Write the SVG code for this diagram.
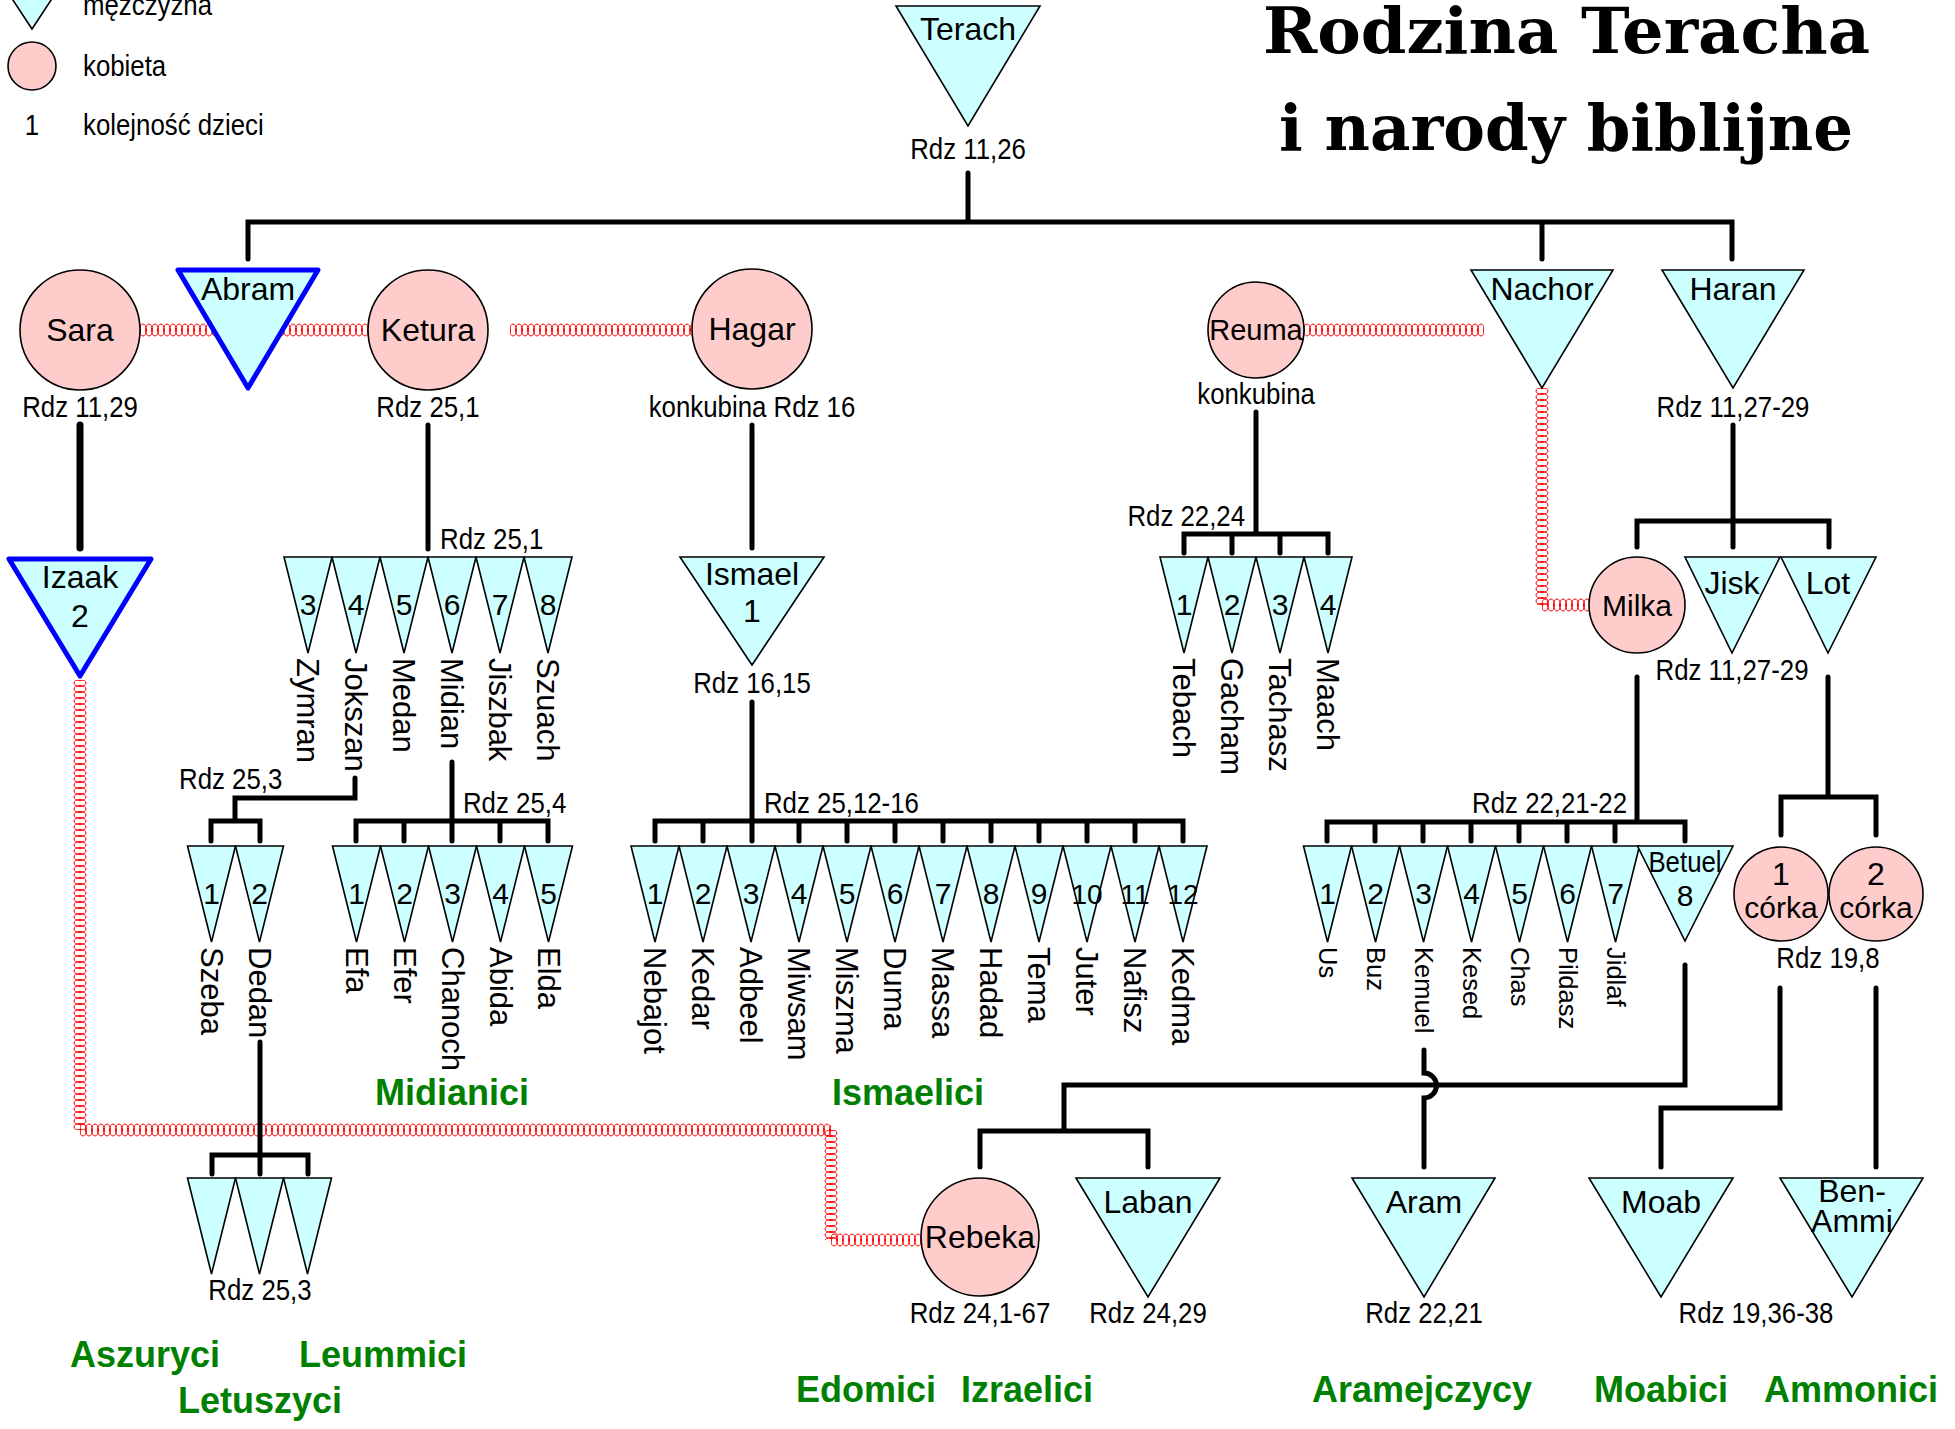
<svg xmlns="http://www.w3.org/2000/svg" xmlns:xlink="http://www.w3.org/1999/xlink" width="1955" height="1429" viewBox="0 0 1955 1429">
<style>
.m{fill:#ccffff;stroke:#000;stroke-width:1.6}
.f{fill:#ffcccc;stroke:#000;stroke-width:1.6}
.b{fill:#ccffff;stroke:#0000ff;stroke-width:5;stroke-linejoin:round}
text{font-family:"Liberation Sans",Arial,sans-serif;fill:#000}
.l{font-size:32px;text-anchor:middle}
.d{font-size:30px;text-anchor:middle}
.r{font-size:29px;text-anchor:middle;transform-box:fill-box;transform-origin:50% 50%;transform:scaleX(0.89)}
.st{text-anchor:start;transform-origin:0% 50%}
.en{text-anchor:end;transform-origin:100% 50%}
.nm{font-size:31px}
.ns{font-size:25.5px}
.g{font-size:36px;font-weight:bold;fill:#008000;text-anchor:middle}
.ttl{font-family:"DejaVu Serif","Liberation Serif",serif;font-weight:bold;font-size:64px}
.ln{fill:none;stroke:#000;stroke-width:5;stroke-linecap:round;stroke-linejoin:miter}
</style>
<defs>
<polygon id="ts" points="-24,0 24,0 0,96"/>
<pattern id="cH" patternUnits="userSpaceOnUse" x="0" y="-7" width="6" height="14">
<g fill="none" stroke="#ff0000" stroke-width="1"><ellipse cx="-3" cy="7" rx="3.5" ry="6"/><ellipse cx="3" cy="7" rx="3.5" ry="6"/><ellipse cx="9" cy="7" rx="3.5" ry="6"/></g>
</pattern>
<pattern id="cV" patternUnits="userSpaceOnUse" x="-7" y="0" width="14" height="6">
<g fill="none" stroke="#ff0000" stroke-width="1"><ellipse cx="7" cy="-3" rx="6" ry="3.5"/><ellipse cx="7" cy="3" rx="6" ry="3.5"/><ellipse cx="7" cy="9" rx="6" ry="3.5"/></g>
</pattern>
</defs>
<rect width="1955" height="1429" fill="#ffffff"/>

<g id="legend">
<polygon class="m" points="5,-12 59,-12 32,29"/>
<text class="r st" x="83" y="15">mężczyzna</text>
<circle class="f" cx="32" cy="66" r="24"/>
<text class="r st" x="83" y="76">kobieta</text>
<text class="r" x="32" y="135">1</text>
<text class="r st" x="83" y="135">kolejność dzieci</text>
</g>

<g id="title">
<text class="ttl" x="1263" y="53" textLength="607" lengthAdjust="spacingAndGlyphs">Rodzina Teracha</text>
<text class="ttl" x="1279" y="150" textLength="574" lengthAdjust="spacingAndGlyphs">i narody biblijne</text>
</g>

<g id="coils">
<rect transform="translate(140,330)" x="0" y="-7" width="228" height="14" fill="url(#cH)"/>
<rect transform="translate(510,330)" x="0" y="-7" width="182" height="14" fill="url(#cH)"/>
<rect transform="translate(1304,330)" x="0" y="-7" width="180" height="14" fill="url(#cH)"/>
<rect transform="translate(1542,388)" x="-7" y="0" width="14" height="217" fill="url(#cV)"/>
<rect transform="translate(1542,605)" x="0" y="-7" width="48" height="14" fill="url(#cH)"/>
<rect transform="translate(80,680)" x="-7" y="0" width="14" height="450" fill="url(#cV)"/>
<rect transform="translate(80,1130)" x="0" y="-7" width="751" height="14" fill="url(#cH)"/>
<rect transform="translate(831,1130)" x="-7" y="0" width="14" height="110" fill="url(#cV)"/>
<rect transform="translate(831,1240)" x="0" y="-7" width="90" height="14" fill="url(#cH)"/>
</g>

<g id="connectors" class="ln">
<path d="M968,173V222 M248,259V222H1732V259 M1542,222V259"/>
<path d="M80,425V548" style="stroke-width:7"/>
<path d="M428,425V549"/>
<path d="M752,425V548"/>
<path d="M1256,412V534 M1184,553V534H1328V553 M1232,534V553 M1280,534V553"/>
<path d="M1733,425V547 M1637,547V521H1829V547"/>
<path d="M355,778V798H235V821 M211,841V821H260V841"/>
<path d="M452,762V841 M356,841V821H548V841 M404,821V841 M500,821V841"/>
<path d="M752,702V841 M655,841V821H1183V841 M703,821V841 M799,821V841 M847,821V841 M895,821V841 M943,821V841 M991,821V841 M1039,821V841 M1087,821V841 M1135,821V841"/>
<path d="M1637,677V822 M1327,841V822H1685V841 M1375,822V841 M1423,822V841 M1471,822V841 M1519,822V841 M1567,822V841 M1615,822V841"/>
<path d="M1828,677V797 M1781,835V797H1876V835"/>
<path d="M260,1042V1174 M212,1174V1155H308V1174"/>
<path d="M1685,965V1085H1064V1131 M980,1167V1131H1148V1167"/>
<path d="M1424,1050V1073a12.5,12.5 0 0 1 0,25V1167"/>
<path d="M1780,988V1108H1661V1167 M1876,988V1167"/>
</g>

<g id="terach"><polygon class="m" points="896,6 1040,6 968,126"/><text class="l" x="968" y="40">Terach</text><text class="r" x="968" y="159">Rdz 11,26</text></g>
<g id="sara"><circle class="f" cx="80" cy="330" r="60"/><text class="l" x="80" y="341">Sara</text><text class="r" x="80" y="417">Rdz 11,29</text></g>
<g id="abram"><polygon class="b" points="178,270 318,270 248,388"/><text class="l" x="248" y="300">Abram</text></g>
<g id="ketura"><circle class="f" cx="428" cy="330" r="60"/><text class="l" x="428" y="341">Ketura</text><text class="r" x="428" y="417">Rdz 25,1</text></g>
<g id="hagar"><circle class="f" cx="752" cy="329" r="60"/><text class="l" x="752" y="340">Hagar</text><text class="r" x="752" y="417">konkubina Rdz 16</text></g>
<g id="reuma"><circle class="f" cx="1256" cy="330" r="48"/><text class="l" x="1256" y="340" style="font-size:29px">Reuma</text><text class="r" x="1256" y="404">konkubina</text></g>
<g id="nachor"><polygon class="m" points="1471,270 1613,270 1542,388"/><text class="l" x="1542" y="300">Nachor</text></g>
<g id="haran"><polygon class="m" points="1662,270 1804,270 1733,388"/><text class="l" x="1733" y="300">Haran</text><text class="r" x="1733" y="417">Rdz 11,27-29</text></g>

<g id="izaak"><polygon class="b" points="9,559 151,559 80,676"/><text class="l" x="80" y="588">Izaak</text><text class="l" x="80" y="627">2</text></g>
<g id="ketura-ref"><text class="r st" x="440" y="549">Rdz 25,1</text></g>
<g id="zymran"><use href="#ts" x="308" y="557" class="m"/><text class="d" x="308" y="615">3</text><text class="nm" transform="translate(297,658) rotate(90)">Zymran</text></g>
<g id="jokszan"><use href="#ts" x="356" y="557" class="m"/><text class="d" x="356" y="615">4</text><text class="nm" transform="translate(345,658) rotate(90)">Jokszan</text></g>
<g id="medan"><use href="#ts" x="404" y="557" class="m"/><text class="d" x="404" y="615">5</text><text class="nm" transform="translate(393,658) rotate(90)">Medan</text></g>
<g id="midian"><use href="#ts" x="452" y="557" class="m"/><text class="d" x="452" y="615">6</text><text class="nm" transform="translate(441,658) rotate(90)">Midian</text></g>
<g id="jiszbak"><use href="#ts" x="500" y="557" class="m"/><text class="d" x="500" y="615">7</text><text class="nm" transform="translate(489,658) rotate(90)">Jiszbak</text></g>
<g id="szuach"><use href="#ts" x="548" y="557" class="m"/><text class="d" x="548" y="615">8</text><text class="nm" transform="translate(537,658) rotate(90)">Szuach</text></g>

<g id="ismael"><polygon class="m" points="680,557 824,557 752,665"/><text class="l" x="752" y="585">Ismael</text><text class="l" x="752" y="622">1</text><text class="r" x="752" y="693">Rdz 16,15</text></g>

<g id="reuma-ref"><text class="r en" x="1245" y="526">Rdz 22,24</text></g>
<g id="tebach"><use href="#ts" x="1184" y="557" class="m"/><text class="d" x="1184" y="615">1</text><text class="nm" transform="translate(1173,658) rotate(90)">Tebach</text></g>
<g id="gacham"><use href="#ts" x="1232" y="557" class="m"/><text class="d" x="1232" y="615">2</text><text class="nm" transform="translate(1221,658) rotate(90)">Gacham</text></g>
<g id="tachasz"><use href="#ts" x="1280" y="557" class="m"/><text class="d" x="1280" y="615">3</text><text class="nm" transform="translate(1269,658) rotate(90)">Tachasz</text></g>
<g id="maach"><use href="#ts" x="1328" y="557" class="m"/><text class="d" x="1328" y="615">4</text><text class="nm" transform="translate(1317,658) rotate(90)">Maach</text></g>

<g id="milka"><circle class="f" cx="1637" cy="605" r="48"/><text class="l" x="1637" y="616" style="font-size:30px">Milka</text></g>
<g id="jisk"><polygon class="m" points="1685,557 1780,557 1732,653"/><text class="l" x="1732" y="594">Jisk</text></g>
<g id="lot"><polygon class="m" points="1781,557 1876,557 1828,653"/><text class="l" x="1828" y="594">Lot</text></g>
<g id="haran-ref"><text class="r" x="1732" y="680">Rdz 11,27-29</text></g>

<g id="refs-mid">
<text class="r st" x="179" y="789">Rdz 25,3</text>
<text class="r st" x="463" y="813">Rdz 25,4</text>
<text class="r st" x="764" y="813">Rdz 25,12-16</text>
<text class="r en" x="1627" y="813">Rdz 22,21-22</text>
</g>

<g id="szeba"><use href="#ts" x="211.5" y="846" class="m"/><text class="d" x="211.5" y="904">1</text><text class="nm" transform="translate(200.5,947) rotate(90)">Szeba</text></g>
<g id="dedan"><use href="#ts" x="259.5" y="846" class="m"/><text class="d" x="259.5" y="904">2</text><text class="nm" transform="translate(248.5,947) rotate(90)">Dedan</text></g>

<g id="efa"><use href="#ts" x="356.5" y="846" class="m"/><text class="d" x="356.5" y="904">1</text><text class="nm" transform="translate(345.5,947) rotate(90)">Efa</text></g>
<g id="efer"><use href="#ts" x="404.5" y="846" class="m"/><text class="d" x="404.5" y="904">2</text><text class="nm" transform="translate(393.5,947) rotate(90)">Efer</text></g>
<g id="chanoch"><use href="#ts" x="452.5" y="846" class="m"/><text class="d" x="452.5" y="904">3</text><text class="nm" transform="translate(441.5,947) rotate(90)">Chanoch</text></g>
<g id="abida"><use href="#ts" x="500.5" y="846" class="m"/><text class="d" x="500.5" y="904">4</text><text class="nm" transform="translate(489.5,947) rotate(90)">Abida</text></g>
<g id="elda"><use href="#ts" x="548.5" y="846" class="m"/><text class="d" x="548.5" y="904">5</text><text class="nm" transform="translate(537.5,947) rotate(90)">Elda</text></g>

<g id="nebajot"><use href="#ts" x="655" y="846" class="m"/><text class="d" x="655" y="904">1</text><text class="nm" transform="translate(644,947) rotate(90)">Nebajot</text></g>
<g id="kedar"><use href="#ts" x="703" y="846" class="m"/><text class="d" x="703" y="904">2</text><text class="nm" transform="translate(692,947) rotate(90)">Kedar</text></g>
<g id="adbeel"><use href="#ts" x="751" y="846" class="m"/><text class="d" x="751" y="904">3</text><text class="nm" transform="translate(740,947) rotate(90)">Adbeel</text></g>
<g id="miwsam"><use href="#ts" x="799" y="846" class="m"/><text class="d" x="799" y="904">4</text><text class="nm" transform="translate(788,947) rotate(90)">Miwsam</text></g>
<g id="miszma"><use href="#ts" x="847" y="846" class="m"/><text class="d" x="847" y="904">5</text><text class="nm" transform="translate(836,947) rotate(90)">Miszma</text></g>
<g id="duma"><use href="#ts" x="895" y="846" class="m"/><text class="d" x="895" y="904">6</text><text class="nm" transform="translate(884,947) rotate(90)">Duma</text></g>
<g id="massa"><use href="#ts" x="943" y="846" class="m"/><text class="d" x="943" y="904">7</text><text class="nm" transform="translate(932,947) rotate(90)">Massa</text></g>
<g id="hadad"><use href="#ts" x="991" y="846" class="m"/><text class="d" x="991" y="904">8</text><text class="nm" transform="translate(980,947) rotate(90)">Hadad</text></g>
<g id="tema"><use href="#ts" x="1039" y="846" class="m"/><text class="d" x="1039" y="904">9</text><text class="nm" transform="translate(1028,947) rotate(90)">Tema</text></g>
<g id="juter"><use href="#ts" x="1087" y="846" class="m"/><text class="d" x="1087" y="904" style="font-size:28px">10</text><text class="nm" transform="translate(1076,947) rotate(90)">Juter</text></g>
<g id="nafisz"><use href="#ts" x="1135" y="846" class="m"/><text class="d" x="1135" y="904" style="font-size:28px">11</text><text class="nm" transform="translate(1124,947) rotate(90)">Nafisz</text></g>
<g id="kedma"><use href="#ts" x="1183" y="846" class="m"/><text class="d" x="1183" y="904" style="font-size:28px">12</text><text class="nm" transform="translate(1172,947) rotate(90)">Kedma</text></g>

<g id="us"><use href="#ts" x="1327.5" y="846" class="m"/><text class="d" x="1327.5" y="904">1</text><text class="ns" transform="translate(1318.5,947) rotate(90)">Us</text></g>
<g id="buz"><use href="#ts" x="1375.5" y="846" class="m"/><text class="d" x="1375.5" y="904">2</text><text class="ns" transform="translate(1366.5,947) rotate(90)">Buz</text></g>
<g id="kemuel"><use href="#ts" x="1423.5" y="846" class="m"/><text class="d" x="1423.5" y="904">3</text><text class="ns" transform="translate(1414.5,947) rotate(90)">Kemuel</text></g>
<g id="kesed"><use href="#ts" x="1471.5" y="846" class="m"/><text class="d" x="1471.5" y="904">4</text><text class="ns" transform="translate(1462.5,947) rotate(90)">Kesed</text></g>
<g id="chas"><use href="#ts" x="1519.5" y="846" class="m"/><text class="d" x="1519.5" y="904">5</text><text class="ns" transform="translate(1510.5,947) rotate(90)">Chas</text></g>
<g id="pildasz"><use href="#ts" x="1567.5" y="846" class="m"/><text class="d" x="1567.5" y="904">6</text><text class="ns" transform="translate(1558.5,947) rotate(90)">Pildasz</text></g>
<g id="jidlaf"><use href="#ts" x="1615.5" y="846" class="m"/><text class="d" x="1615.5" y="904">7</text><text class="ns" transform="translate(1606.5,947) rotate(90)">Jidlaf</text></g>
<g id="betuel"><polygon class="m" points="1637.5,846 1733,846 1685,941"/><text class="r" x="1685" y="872">Betuel</text><text class="d" x="1685" y="906">8</text></g>

<g id="corka1"><circle class="f" cx="1781" cy="894" r="47"/><text class="l" x="1781" y="885">1</text><text class="l" x="1781" y="918" style="font-size:30px">córka</text></g>
<g id="corka2"><circle class="f" cx="1876" cy="894" r="47"/><text class="l" x="1876" y="885">2</text><text class="l" x="1876" y="918" style="font-size:30px">córka</text></g>
<g id="corki-ref"><text class="r" x="1828" y="968">Rdz 19,8</text></g>

<g id="dedan-children">
<use href="#ts" x="211.5" y="1178" class="m"/><use href="#ts" x="259.5" y="1178" class="m"/><use href="#ts" x="307.5" y="1178" class="m"/>
<text class="r" x="260" y="1300">Rdz 25,3</text>
</g>

<g id="rebeka"><circle class="f" cx="980" cy="1237" r="59"/><text class="l" x="980" y="1248">Rebeka</text><text class="r" x="980" y="1323">Rdz 24,1-67</text></g>
<g id="laban"><polygon class="m" points="1076,1178 1220,1178 1148,1297"/><text class="l" x="1148" y="1213">Laban</text><text class="r" x="1148" y="1323">Rdz 24,29</text></g>
<g id="aram"><polygon class="m" points="1352,1178 1495,1178 1424,1297"/><text class="l" x="1424" y="1213">Aram</text><text class="r" x="1424" y="1323">Rdz 22,21</text></g>
<g id="moab"><polygon class="m" points="1589,1178 1733,1178 1661,1297"/><text class="l" x="1661" y="1213">Moab</text></g>
<g id="ben-ammi"><polygon class="m" points="1780,1178 1923,1178 1852,1297"/><text class="l" x="1852" y="1202">Ben-</text><text class="l" x="1852" y="1232">Ammi</text></g>
<g id="moab-ref"><text class="r" x="1756" y="1323">Rdz 19,36-38</text></g>

<g id="peoples">
<text class="g" x="452" y="1105">Midianici</text>
<text class="g" x="908" y="1105">Ismaelici</text>
<text class="g" x="145" y="1367">Aszuryci</text>
<text class="g" x="383" y="1367">Leummici</text>
<text class="g" x="260" y="1413">Letuszyci</text>
<text class="g" x="866" y="1402">Edomici</text>
<text class="g" x="1027" y="1402">Izraelici</text>
<text class="g" x="1422" y="1402">Aramejczycy</text>
<text class="g" x="1661" y="1402">Moabici</text>
<text class="g" x="1851" y="1402">Ammonici</text>
</g>
</svg>
